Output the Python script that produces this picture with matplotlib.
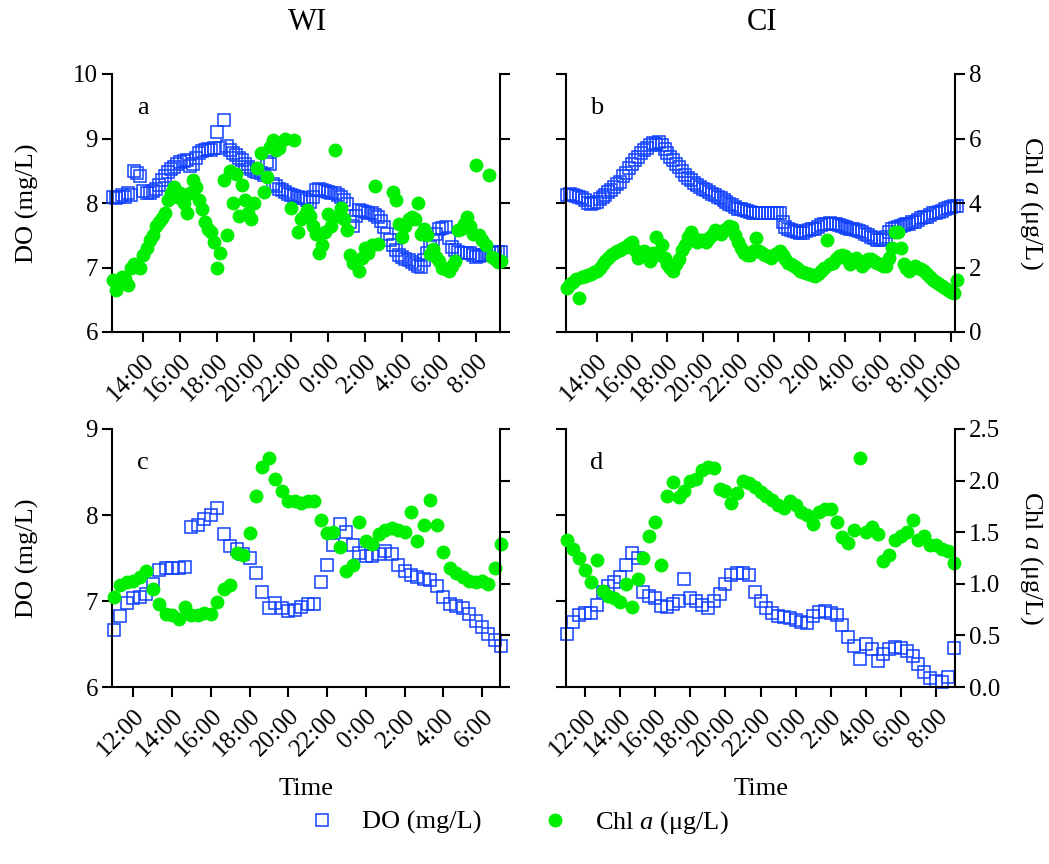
import numpy as np
import matplotlib
matplotlib.use("Agg")
import matplotlib.pyplot as plt
from matplotlib.lines import Line2D

plt.rcParams['font.family'] = ['Liberation Serif', 'DejaVu Serif']
plt.rcParams['mathtext.fontset'] = 'custom'
plt.rcParams['mathtext.rm'] = 'Liberation Serif'
plt.rcParams['mathtext.it'] = 'Liberation Serif:italic'

BLUE = '#1040ff'
GREEN = '#00ee00'
nan = np.nan

# times in hours from midnight of the first day; WI/CI first survey logged
# every 10 min, second survey every 20 min

# WI, first survey
wi1_start, wi1_step = 12 + 20 / 60, 1 / 6
wi1_do = [8.10, 8.08, 8.10, 8.12, 8.10, 8.15, 8.13, 8.50, 8.47, 8.42,
          8.18, 8.15, 8.15, 8.18, 8.22, 8.28, 8.35, 8.42, 8.48, 8.52,
          8.56, 8.60, 8.64, 8.65, 8.66, 8.58, 8.60, 8.70, 8.77, 8.80,
          8.82, 8.84, 8.82, 8.85, 9.10, 8.86, 9.29, 8.88, 8.82, 8.78,
          8.74, 8.70, 8.66, 8.60, 8.56, 8.53, 8.50, 8.48, 8.46, 8.44,
          8.64, 8.60, 8.30, 8.26, 8.22, 8.20, 8.17, 8.14, 8.12, 8.11,
          8.10, 8.08, 8.07, 8.05, 8.02, 8.10, 8.20, 8.22, 8.20, 8.18,
          8.17, 8.16, 8.15, 8.12, 8.10, 8.05, 7.99, 7.70, 7.65, 7.80,
          7.89, 7.88, 7.86, 7.85, 7.84, 7.82, 7.79, 7.72, 7.63, 7.52,
          7.42, 7.35, 7.27, 7.20, 7.16, 7.13, 7.11, 7.08, 7.06, 7.03,
          7.01, 7.12, 7.22, 7.32, 7.42, 7.52, 7.60, 7.62, 7.63, 7.45,
          7.32, 7.27, 7.24, 7.23, 7.22, 7.22, 7.22, 7.19, 7.16, 7.18,
          7.19, 7.20, 7.22, 7.23, 7.24, 7.24, 7.24]
wi1_chl = [1.60, 1.30, 1.50, 1.70, 1.65, 1.45, 2.00, 2.10, 2.05, 2.00,
           2.40, 2.60, 2.85, 3.00, 3.30, 3.40, 3.55, 3.70, 4.10, 4.30,
           4.50, 4.20, 4.30, 4.00, 3.70, 4.30, 4.70, 4.50, 4.10, 3.80,
           3.40, 3.20, 3.10, 2.80, 2.00, 2.45, 4.70, 3.00, 5.00, 4.00,
           4.90, 3.60, 4.55, 4.10, 3.70, 3.50, 4.00, 5.10, 5.55, 4.35,
           4.80, 5.75, 5.95, 5.64, 5.70, nan, 5.97, nan, 3.83, 5.95,
           3.10, 3.50, 3.60, 3.78, 3.60, 3.30, 3.05, 2.45, 2.70, 3.10,
           3.67, 3.30, 5.64, 3.60, 3.83, 3.50, 3.15, 2.40, 2.15, 2.20,
           1.90, 2.30, 2.60, 2.45, 2.70, 4.52, 2.74, nan, nan, nan,
           nan, 4.35, 4.10, 3.36, 2.95, 3.30, 3.50, 3.57, 3.50, 4.00,
           3.05, 3.20, 3.00, 2.43, 2.58, 2.33, 2.20, 2.00, 1.95, 1.90,
           2.05, 2.20, 3.15, 3.20, 3.36, 3.57, 3.30, 3.05, 5.17, 3.00,
           2.85, 2.70, 4.86, 2.33, 2.25, 2.17, 2.20]

# CI, first survey
ci1_start, ci1_step = 12 + 20 / 60, 1 / 6
ci1_do = [8.12, 8.14, 8.12, 8.11, 8.10, 8.08, 8.04, 8.00, 7.99, 8.00,
          8.02, 8.06, 8.10, 8.13, 8.17, 8.20, 8.25, 8.30, 8.33, 8.42,
          8.46, 8.55, 8.61, 8.66, 8.72, 8.78, 8.82, 8.86, 8.90, 8.93,
          8.92, 8.94, 8.90, 8.84, 8.77, 8.72, 8.66, 8.61, 8.56, 8.50,
          8.43, 8.38, 8.35, 8.31, 8.28, 8.25, 8.22, 8.20, 8.17, 8.14,
          8.12, 8.10, 8.07, 8.05, 8.02, 7.99, 7.97, 7.94, 7.91, 7.90,
          7.89, 7.87, 7.86, 7.85, 7.84, 7.84, 7.84, 7.85, 7.84, 7.84,
          7.84, 7.85, 7.84, 7.70, 7.63, 7.60, 7.58, 7.56, 7.55, 7.54,
          7.53, 7.56, 7.58, 7.59, 7.60, 7.63, 7.66, 7.67, 7.68, 7.69,
          7.68, 7.67, 7.66, 7.65, 7.63, 7.62, 7.60, 7.59, 7.58, 7.56,
          7.55, 7.52, 7.50, 7.47, 7.45, 7.43, 7.42, 7.44, 7.47, 7.55,
          7.60, 7.62, 7.63, 7.65, 7.66, 7.67, 7.68, 7.70, 7.71, 7.74,
          7.76, 7.78, 7.79, 7.82, 7.84, 7.85, 7.86, 7.88, 7.91, 7.93,
          7.94, 7.95, 7.96]
ci1_chl = [1.35, 1.50, 1.55, 1.65, 1.06, 1.72, 1.75, 1.78, 1.80, 1.85,
           1.90, 2.00, 2.10, 2.20, 2.30, 2.38, 2.45, 2.50, 2.55, 2.62,
           2.65, 2.72, 2.80, 2.55, 2.30, 2.40, 2.50, 2.35, 2.20, 2.45,
           2.95, 2.40, 2.70, 2.30, 2.10, 2.00, 1.90, 2.10, 2.25, 2.55,
           2.70, 2.95, 3.10, 2.90, 2.80, 2.85, 2.85, 2.80, 2.90, 3.00,
           3.15, 3.10, 3.05, 3.15, 3.20, 3.30, 3.26, 3.00, 2.80, 2.60,
           2.45, 2.40, 2.40, 2.50, 2.90, 2.50, 2.45, 2.40, 2.35, 2.30,
           2.40, 2.45, 2.50, 2.40, 2.25, 2.15, 2.10, 2.05, 2.00, 1.90,
           1.85, 1.82, 1.80, 1.78, 1.75, 1.80, 1.90, 2.00, 2.85, 2.10,
           2.15, 2.25, 2.35, 2.40, 2.35, 2.25, 2.10, 2.20, 2.30, 2.20,
           2.05, 2.15, 2.25, 2.25, 2.20, 2.15, 2.10, 2.05, 2.05, 2.30,
           2.60, 3.10, 3.10, 2.60, 2.10, 2.00, 1.90, 2.00, 2.05, 2.00,
           1.95, 1.88, 1.80, 1.70, 1.60, 1.55, 1.50, 1.42, 1.35, 1.30,
           1.25, 1.20, 1.60]

# WI, second survey
wi2_start, wi2_step = 11.0, 1 / 3
wi2_do = [6.66, 6.82, 6.98, 7.03, 7.05, 7.08, 7.20, 7.36, 7.38, 7.38,
          7.38, 7.40, 7.86, 7.88, 7.95, 8.00, 8.08, 7.78, 7.64, 7.60,
          7.55, 7.50, 7.32, 7.10, 6.92, 6.98, 6.92, 6.88, 6.90, 6.93,
          6.96, 6.97, 7.22, 7.42, 7.65, 7.90, 7.80, 7.65, 7.56, 7.52,
          7.52, 7.55, 7.58, 7.55, 7.42, 7.35, 7.30, 7.28, 7.26, 7.24,
          7.18, 7.05, 6.96, 6.94, 6.92, 6.85, 6.77, 6.70, 6.62, 6.55,
          6.48]
wi2_chl = [0.87, 0.99, 1.02, 1.03, 1.07, 1.12, 0.95, 0.80, 0.71, 0.70,
           0.66, 0.78, 0.70, 0.70, 0.72, 0.71, 0.82, 0.95, 0.99, 1.30,
           1.28, 1.49, 1.85, 2.13, 2.22, 2.02, 1.90, 1.80, 1.80, 1.78,
           1.80, 1.80, 1.62, 1.49, 1.50, 1.36, 1.12, 1.18, 1.60, 1.41,
           1.39, 1.48, 1.52, 1.54, 1.52, 1.50, 1.70, 1.41, 1.57, 1.81,
           1.57, 1.31, 1.15, 1.10, 1.07, 1.03, 1.02, 1.03, 1.00, 1.15,
           1.39]

# CI, second survey
ci2_start, ci2_step = 11.0, 1 / 3
ci2_do = [6.62, 6.76, 6.84, 6.86, 6.86, 6.95, 7.10, 7.18, 7.22, 7.28,
          7.42, 7.56, 7.50, 7.10, 7.06, 7.04, 6.94, 6.93, 6.96, 7.00,
          7.26, 7.04, 7.00, 6.95, 6.92, 7.00, 7.08, 7.20, 7.30, 7.32,
          7.32, 7.30, 7.10, 7.00, 6.92, 6.86, 6.83, 6.81, 6.80, 6.78,
          6.76, 6.74, 6.82, 6.87, 6.88, 6.86, 6.84, 6.72, 6.58, 6.48,
          6.33, 6.50, 6.44, 6.30, 6.38, 6.44, 6.46, 6.45, 6.42, 6.36,
          6.27, 6.17, 6.10, 6.07, 6.06, 6.12, 6.45]
ci2_chl = [1.42, 1.34, 1.25, 1.13, 1.02, 1.23, 0.93, 0.88, 0.86, 0.82,
           1.00, 0.78, 1.05, 1.25, 1.46, 1.60, 1.18, 1.85, 1.99, 1.84,
           1.90, 2.00, 2.02, 2.10, 2.13, 2.12, 1.92, 1.90, 1.78, 1.88,
           2.00, 1.98, 1.94, 1.89, 1.85, 1.81, 1.76, 1.73, 1.80, 1.76,
           1.70, 1.67, 1.58, 1.70, 1.72, 1.72, 1.60, 1.45, 1.40, 1.52,
           2.22, 1.50, 1.55, 1.48, 1.22, 1.28, 1.42, 1.46, 1.50, 1.62,
           1.42, 1.46, 1.38, 1.38, 1.34, 1.32, 1.20]

wi1_hours = [14, 16, 18, 20, 22, 24, 26, 28, 30, 32]
ci1_hours = [14, 16, 18, 20, 22, 24, 26, 28, 30, 32, 34]
wi2_hours = [12, 14, 16, 18, 20, 22, 24, 26, 28, 30]
ci2_hours = [12, 14, 16, 18, 20, 22, 24, 26, 28, 30, 32]

W, H = 1049, 864
fig = plt.figure(figsize=(W / 100, H / 100), dpi=100)


def panel(box, start, step, do, chl, hours, xlim, do_lim, chl_ticks, letter,
          left_side):
    x0, y0, x1, y1 = box
    ax = fig.add_axes([x0 / W, 1 - y1 / H, (x1 - x0) / W, (y1 - y0) / H])
    ax2 = ax.twinx()
    t = start + step * np.arange(len(do))

    ax.plot(t, do, ls='none', marker='s', ms=8.5, mfc='none', mec=BLUE,
            mew=1.1, clip_on=False)
    ax2.plot(t, chl, ls='none', marker='o', ms=10, mfc=GREEN, mec=GREEN,
             mew=0, clip_on=False)

    ax.set_xlim(*xlim)
    ax.set_ylim(*do_lim)
    ax.set_yticks(np.arange(do_lim[0], do_lim[1] + 0.5, 1))
    ax2.set_ylim(chl_ticks[0], chl_ticks[-1])
    ax2.set_yticks(chl_ticks)
    if chl_ticks[1] - chl_ticks[0] < 1:
        ax2.set_yticklabels(['%.1f' % v for v in chl_ticks])

    ax.set_xticks(hours)
    ax.set_xticklabels(['%d:00' % (h % 24) for h in hours], rotation=45,
                       ha='right', rotation_mode='anchor')

    for s in ['top', 'right']:
        ax.spines[s].set_visible(False)
    for s in ['top', 'left', 'bottom']:
        ax2.spines[s].set_visible(False)
    for a in (ax, ax2):
        for s in a.spines.values():
            s.set_linewidth(1.5)
        a.tick_params(direction='out', length=7, width=1.5, labelsize=18,
                      pad=3)
    ax.tick_params(axis='x', pad=6)
    ax.tick_params(labelleft=left_side)
    ax2.tick_params(labelright=not left_side)

    ax.text(0.08, 0.87, letter, transform=ax.transAxes, fontsize=19,
            ha='center', va='center')
    cy = (y0 + y1) / 2
    if left_side:
        fig.text(27 / W, 1 - cy / H, 'DO (mg/L)', rotation=90, fontsize=19,
                 ha='center', va='center')
    else:
        fig.text(1031 / W, 1 - cy / H, 'Chl $\\mathit{a}$ (μg/L)', rotation=270,
                 fontsize=19, ha='center', va='center')
    return ax


panel((112, 74, 500, 332), wi1_start, wi1_step, wi1_do, wi1_chl, wi1_hours,
      (12.3, 33.28), (6, 10), [0, 2, 4, 6, 8], 'a', True)
panel((566, 74, 955, 332), ci1_start, ci1_step, ci1_do, ci1_chl, ci1_hours,
      (12.27, 34.24), (6, 10), [0, 2, 4, 6, 8], 'b', False)
panel((112, 429, 500, 687), wi2_start, wi2_step, wi2_do, wi2_chl, wi2_hours,
      (10.9, 30.93), (6, 9), [0, 0.5, 1.0, 1.5, 2.0, 2.5], 'c', True)
panel((566, 429, 955, 687), ci2_start, ci2_step, ci2_do, ci2_chl, ci2_hours,
      (10.92, 33.08), (6, 9), [0, 0.5, 1.0, 1.5, 2.0, 2.5], 'd', False)

fig.text(307 / W, 1 - 22 / H, 'WI', fontsize=22, ha='center', va='center')
fig.text(762 / W, 1 - 22 / H, 'CI', fontsize=22, ha='center', va='center')
fig.text(306 / W, 1 - 789 / H, 'Time', fontsize=19, ha='center', va='center')
fig.text(761 / W, 1 - 789 / H, 'Time', fontsize=19, ha='center', va='center')

handles = [
    Line2D([], [], ls='none', marker='s', ms=8.5, mfc='none', mec=BLUE, mew=1.1),
    Line2D([], [], ls='none', marker='o', ms=10, mfc=GREEN, mec=GREEN, mew=0),
]
fig.legend(handles, ['DO (mg/L)', 'Chl $\\mathit{a}$ (μg/L)'], loc='center',
           bbox_to_anchor=(512 / W, 1 - 823 / H), ncol=2, frameon=False,
           fontsize=19, handletextpad=0.5, columnspacing=1.8)

fig.savefig('out.png', dpi=100)
